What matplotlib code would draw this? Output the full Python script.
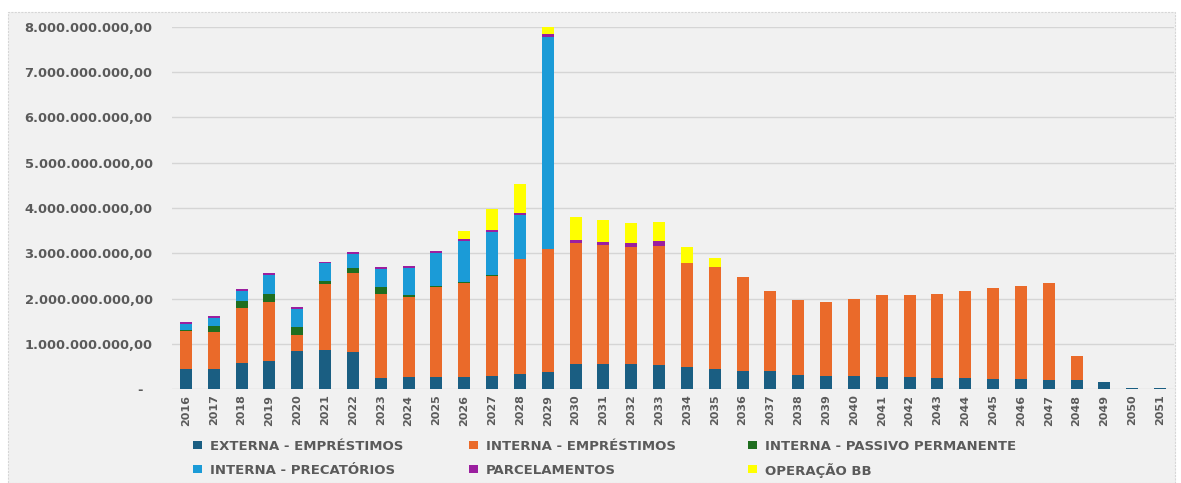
import matplotlib
matplotlib.use("Agg")
import matplotlib.pyplot as plt
from matplotlib.patches import Rectangle
from matplotlib.ticker import FuncFormatter, MultipleLocator
import numpy as np

years = [str(y) for y in range(2016, 2052)]

externa_emprestimos = [0.44, 0.44, 0.57, 0.62, 0.84, 0.86, 0.82, 0.24, 0.26, 0.27,
                       0.26, 0.29, 0.33, 0.37, 0.55, 0.55, 0.55, 0.52, 0.49, 0.44,
                       0.40, 0.40, 0.31, 0.29, 0.29, 0.27, 0.26, 0.25, 0.24, 0.22,
                       0.21, 0.20, 0.20, 0.16, 0.03, 0.02]
interna_emprestimos = [0.84, 0.81, 1.23, 1.31, 0.35, 1.45, 1.74, 1.87, 1.78, 1.98,
                       2.08, 2.21, 2.54, 2.72, 2.68, 2.63, 2.59, 2.64, 2.29, 2.26,
                       2.07, 1.77, 1.66, 1.64, 1.71, 1.80, 1.82, 1.86, 1.93, 2.02,
                       2.07, 2.15, 0.54, 0.0, 0.0, 0.0]
interna_passivo = [0.02, 0.14, 0.15, 0.17, 0.17, 0.08, 0.11, 0.14, 0.04, 0.03,
                   0.03, 0.03, 0.0, 0.0, 0.0, 0.0, 0.0, 0.0, 0.0, 0.0,
                   0.0, 0.0, 0.0, 0.0, 0.0, 0.0, 0.0, 0.0, 0.0, 0.0,
                   0.0, 0.0, 0.0, 0.0, 0.0, 0.0]
interna_precatorios = [0.13, 0.19, 0.22, 0.42, 0.41, 0.39, 0.31, 0.40, 0.60, 0.72,
                       0.89, 0.93, 0.98, 4.68, 0.0, 0.0, 0.0, 0.0, 0.0, 0.0,
                       0.0, 0.0, 0.0, 0.0, 0.0, 0.0, 0.0, 0.0, 0.0, 0.0,
                       0.0, 0.0, 0.0, 0.0, 0.0, 0.0]
parcelamentos = [0.04, 0.03, 0.05, 0.04, 0.04, 0.03, 0.05, 0.04, 0.04, 0.06,
                 0.05, 0.05, 0.05, 0.08, 0.06, 0.06, 0.08, 0.12, 0.01, 0.0,
                 0.0, 0.0, 0.0, 0.0, 0.0, 0.0, 0.0, 0.0, 0.0, 0.0,
                 0.0, 0.0, 0.0, 0.0, 0.0, 0.0]
operacao_bb = [0.0, 0.0, 0.0, 0.0, 0.0, 0.0, 0.0, 0.0, 0.0, 0.0,
               0.18, 0.47, 0.62, 0.16, 0.52, 0.49, 0.44, 0.40, 0.34, 0.19,
               0.0, 0.0, 0.0, 0.0, 0.0, 0.0, 0.0, 0.0, 0.0, 0.0,
               0.0, 0.0, 0.0, 0.0, 0.0, 0.0]

series_labels = ["EXTERNA - EMPRÉSTIMOS", "INTERNA - EMPRÉSTIMOS",
                 "INTERNA - PASSIVO PERMANENTE", "INTERNA - PRECATÓRIOS",
                 "PARCELAMENTOS", "OPERAÇÃO BB"]
series_values = [externa_emprestimos, interna_emprestimos, interna_passivo,
                 interna_precatorios, parcelamentos, operacao_bb]
colors = ["#1a5e82", "#ea6a2a", "#1f6e1f", "#1b9bd7", "#9b1f9f", "#ffff00"]

SCALE = 1e9
W, H = 1181, 483
fig = plt.figure(figsize=(W / 100, H / 100), dpi=100)
fig.patch.set_facecolor("white")

# chart panel
panel = Rectangle((8 / W, 0), (1175 - 8) / W, 1 - 12 / H, transform=fig.transFigure,
                  facecolor="#f1f1f1", edgecolor="#d6d6d6", linewidth=0.8,
                  linestyle=(0, (2, 1)), zorder=-5)
fig.patches.append(panel)

ax = fig.add_axes([172 / W, 1 - 389 / H, (1174 - 172) / W, (389 - 27) / H])
ax.set_facecolor("none")
ax.set_zorder(2)

x = np.arange(len(years))
bottom = np.zeros(len(years))
for lab, vals, col in zip(series_labels, series_values, colors):
    v = np.array(vals) * SCALE
    ax.bar(x, v, width=0.43, bottom=bottom, color=col, label=lab,
           zorder=3, clip_on=False)
    bottom += v

ax.set_xlim(-0.5, 35.5)
ax.set_ylim(0, 8e9)
ax.yaxis.set_major_locator(MultipleLocator(1e9))

def fmt(v, pos):
    if abs(v) < 1:
        return "-  "
    s = f"{int(round(v)):,}".replace(",", ".")
    return s + ",00"

ax.yaxis.set_major_formatter(FuncFormatter(fmt))
ax.grid(axis="y", color="#d5d5d5", linewidth=1.0, zorder=0)
ax.set_axisbelow(True)
for s in ax.spines.values():
    s.set_visible(False)
ax.tick_params(axis="y", length=0, pad=14, labelsize=9.4, labelcolor="#5a5a5a")
ax.tick_params(axis="x", length=0, pad=4, labelsize=8.0, labelcolor="#5a5a5a")
for t in ax.get_yticklabels():
    t.set_fontweight("bold")
ax.set_xticks(x)
ax.set_xticklabels(years, rotation=90, fontweight="bold")

# legend (3 columns x 2 rows), laid out like the original
legend_cols_px = [193, 469, 748]
legend_rows_px = [445, 469]
for i, (lab, col) in enumerate(zip(series_labels, colors)):
    r, c = divmod(i, 3)
    xm = legend_cols_px[c]
    ym = legend_rows_px[r]
    fig.patches.append(Rectangle((xm / W, 1 - (ym + 4) / H), 9 / W, 8 / H,
                                 transform=fig.transFigure, facecolor=col,
                                 edgecolor="none", zorder=3))
    fig.text((xm + 17) / W, 1 - ym / H, lab, ha="left", va="center_baseline",
             fontsize=9.5, fontweight="bold", color="#5a5a5a")

fig.savefig("out.png", dpi=100, facecolor="white")
